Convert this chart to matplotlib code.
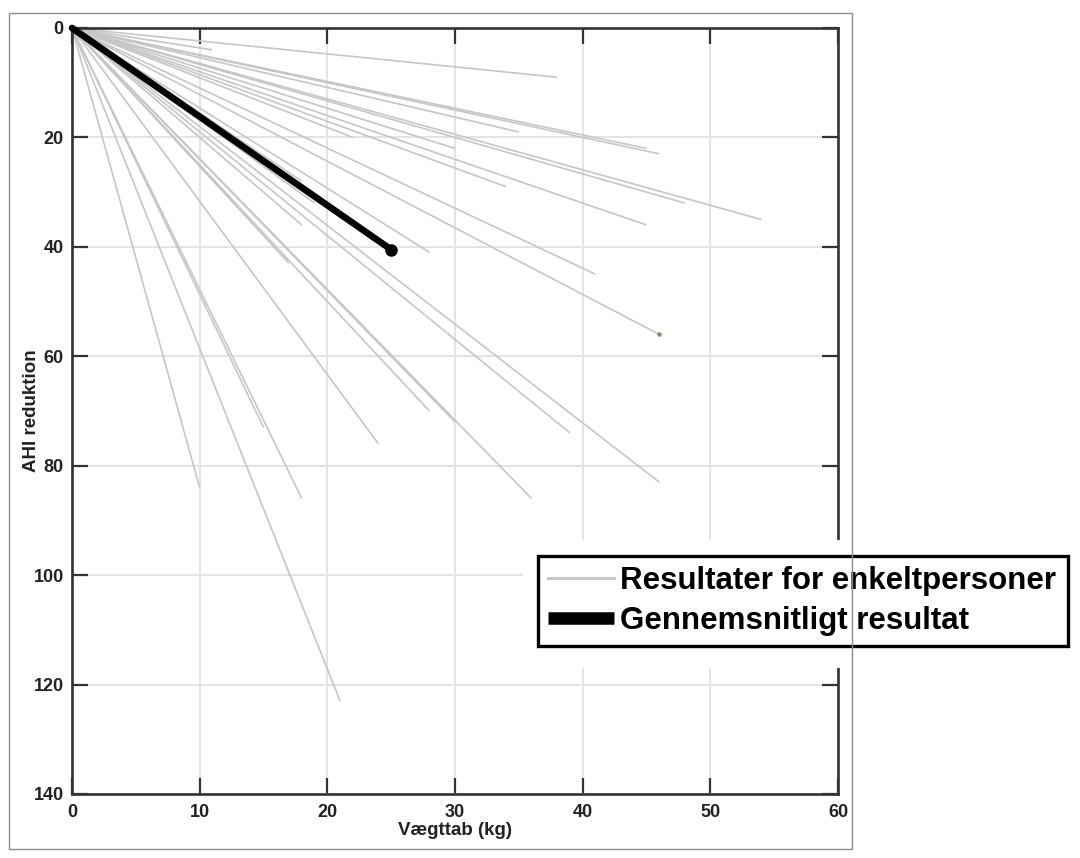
import matplotlib
matplotlib.use("Agg")
import matplotlib.pyplot as plt
from matplotlib.lines import Line2D
from matplotlib.patches import Rectangle

# Individual results: weight loss (kg) and AHI reduction at the end of each line
weight_loss = [11, 38, 35, 22, 30, 45, 46, 34, 48, 54, 45, 41, 46, 28,
               18, 19, 18, 17, 10, 15, 18, 24, 28, 30, 36, 39, 46, 21]
ahi_reduction = [4, 9, 19, 20, 22, 22, 23, 29, 32, 35, 36, 45, 56, 41,
                 28, 32, 36, 43, 84, 73, 86, 76, 70, 72, 86, 74, 83, 123]
dot_index = 12  # line ending with a small dot marker

mean_loss = [0, 25]
mean_ahi = [0, 40.5]

x_ticks = [0, 10, 20, 30, 40, 50, 60]
y_ticks = [0, 20, 40, 60, 80, 100, 120, 140]
legend_labels = ["Resultater for enkeltpersoner", "Gennemsnitligt resultat"]

plt.rcParams['font.family'] = ['Liberation Sans', 'DejaVu Sans']
plt.rcParams['font.weight'] = 'bold'

W, H = 1080, 858
fig = plt.figure(figsize=(W / 100, H / 100), dpi=100)
ax = fig.add_axes([72 / W, 1 - 794 / H, (838 - 72) / W, (794 - 28) / H])

gray = '#c6c6c6'
for i, (xv, yv) in enumerate(zip(weight_loss, ahi_reduction)):
    ax.plot([0, xv], [0, yv], color=gray, lw=1.2, solid_capstyle='butt', zorder=2)
    if i == dot_index:
        ax.plot([xv], [yv], marker='o', ms=2.2, color='#8a8a6a', zorder=3)

ax.plot(mean_loss, mean_ahi, color='black', lw=4.8, marker='o', ms=8,
        markevery=[1], solid_capstyle='round', zorder=4, clip_on=False)

ax.set_xlim(0, 60)
ax.set_ylim(140, 0)
ax.set_xticks(x_ticks)
ax.set_yticks(y_ticks)
ax.grid(True, color='#e4e4e4', lw=1.4, zorder=0)
ax.set_axisbelow(True)
ax.tick_params(direction='in', length=11.5, width=1.6, color='#333333',
               top=True, right=True, labelsize=13, labelcolor='#222222')
ax.tick_params(axis='x', pad=7)
ax.tick_params(axis='y', pad=6)
for sp in ax.spines.values():
    sp.set_linewidth(1.9)
    sp.set_color('#333333')
ax.set_xlabel("Vægttab (kg)", fontsize=13.5, fontweight='bold', color='#222222', labelpad=1)
ax.set_ylabel("AHI reduktion", fontsize=13.5, fontweight='bold', color='#222222', labelpad=-5)

# white area behind legend
fig.add_artist(Rectangle((523 / W, 1 - 668 / H), (W - 523) / W, (668 - 540) / H,
                         transform=fig.transFigure, facecolor='white',
                         edgecolor='none', zorder=10))

handles = [Line2D([], [], color=gray, lw=2.2),
           Line2D([], [], color='black', lw=9, solid_capstyle='butt')]
leg = fig.legend(handles, legend_labels, loc='upper left',
                 bbox_to_anchor=(538 / W, 1 - 646 / H, (1068 - 538) / W, (646 - 556) / H),
                 mode='expand', borderaxespad=0, fancybox=False, framealpha=1,
                 edgecolor='black', handlelength=2.1,
                 handletextpad=0.22, borderpad=0.32, labelspacing=0.33,
                 prop={'weight': 'bold', 'size': 22.5})
leg.get_frame().set_linewidth(2.4)
leg.set_zorder(11)

# figure border
fig.add_artist(Rectangle((9 / W, 1 - 849 / H), (852 - 9) / W, (849 - 13) / H,
                         transform=fig.transFigure, facecolor='none',
                         edgecolor='#8a8a8a', lw=1.0, zorder=12))

fig.savefig("out.png", dpi=100)
